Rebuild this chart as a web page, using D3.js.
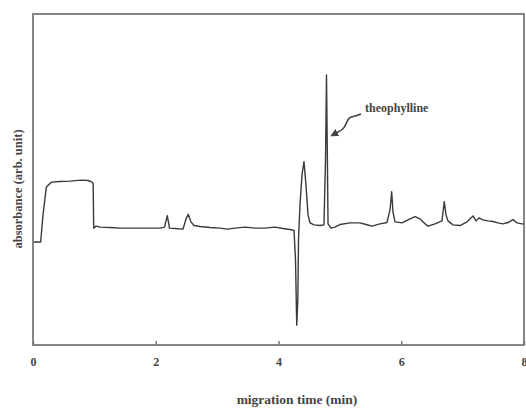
<!DOCTYPE html>
<html>
<head>
<meta charset="utf-8">
<script src="https://cdn.jsdelivr.net/npm/d3@7"></script>
<style>
body { margin: 0; background: #fff; }
svg text { font-family: "Liberation Serif", "DejaVu Serif", serif; font-weight: bold; fill: #444; }
</style>
</head>
<body>
<svg id="chart" width="526" height="408"></svg>
<script>
// electropherogram trace (time in min, absorbance in arb. units)
var timeMin = [0.016, 0.125, 0.163, 0.217, 0.298, 0.44, 0.603, 0.787, 0.896, 0.961, 0.98, 0.989,
	1.026, 1.092, 1.255, 1.418, 1.743, 2.069, 2.143, 2.188, 2.224, 2.313, 2.444, 2.493, 2.530,
	2.574, 2.623, 2.721, 2.884, 3.047, 3.161, 3.291, 3.454, 3.617, 3.780, 3.943, 4.073, 4.187,
	4.253, 4.277, 4.297, 4.315, 4.326, 4.350, 4.383, 4.415, 4.448, 4.481, 4.513, 4.578, 4.676,
	4.741, 4.766, 4.782, 4.795, 4.807, 4.855, 4.920, 5.002, 5.165, 5.328, 5.426, 5.523, 5.653,
	5.767, 5.817, 5.844, 5.865, 5.898, 6.012, 6.143, 6.224, 6.306, 6.371, 6.436, 6.550, 6.664,
	6.701, 6.729, 6.762, 6.843, 6.957, 7.071, 7.169, 7.218, 7.267, 7.332, 7.414, 7.495, 7.577,
	7.658, 7.739, 7.821, 7.886, 7.967, 8.0];
var absorbance = [31.1, 31.1, 39.3, 47.7, 49.2, 49.4, 49.5, 49.8, 49.7, 49.2, 48.8, 35.3,
	35.9, 35.6, 35.5, 35.3, 35.3, 35.3, 35.6, 39.1, 35.3, 35.2, 35.0, 38.1, 39.5,
	37.2, 36.1, 35.8, 35.5, 35.3, 35.0, 35.3, 35.6, 35.3, 35.3, 35.6, 35.2, 34.9,
	34.6, 25.7, 6.0, 13.6, 31.7, 42.3, 51.4, 55.4, 48.3, 39.3, 36.9, 36.3, 36.1,
	36.3, 55.9, 81.6, 58.9, 36.6, 35.3, 35.6, 36.4, 36.9, 36.9, 36.4, 35.9, 36.6,
	37.0, 40.8, 46.3, 40.2, 37.2, 36.9, 38.1, 38.8, 38.1, 36.9, 35.9, 36.6, 37.5,
	43.3, 39.3, 37.5, 36.3, 36.1, 37.2, 39.0, 37.5, 38.4, 37.8, 37.5, 37.3, 36.9,
	36.6, 37.0, 37.9, 36.9, 36.6, 36.6];
var xTicks = [0, 2, 4, 6, 8];
var xLabel = "migration time (min)";
var yLabel = "absorbance (arb. unit)";
var peakName = "theophylline";
// squiggly pointer of the annotation, in data units
var pointerT = [4.936, 5.067, 5.100, 5.133, 5.182, 5.264, 5.345];
var pointerA = [64.0, 65.3, 66.8, 68.3, 68.9, 69.2, 69.8];

var svg = d3.select("#chart");
var padLeft = 33, padRight = 524, padTop = 14, padBottom = 345;

var xScale = d3.scaleLinear()
	.domain([0, 8])
	.range([padLeft, padRight]);

var yScale = d3.scaleLinear()
	.domain([0, 100])
	.range([padBottom, padTop]);

var trace = timeMin.map(function(t, i) { return [t, absorbance[i]]; });

// frame
svg.append("rect")
	.attr("x", padLeft)
	.attr("y", padTop)
	.attr("width", padRight - padLeft)
	.attr("height", padBottom - padTop)
	.attr("fill", "none")
	.attr("stroke", "#858585")
	.attr("stroke-width", 2);

var xAxis = svg.append("g")
	.attr("transform", "translate(0, " + padBottom + ")")
	.call(d3.axisBottom(xScale).tickValues(xTicks).tickSizeInner(-4).tickSizeOuter(0).tickPadding(12));
xAxis.select(".domain").remove();
xAxis.selectAll("line").attr("stroke", "#777").attr("stroke-width", 1.5);
xAxis.selectAll("text")
	.style("font-size", "12px")
	.style("font-family", "Liberation Serif, serif")
	.style("font-weight", "bold")
	.attr("fill", "#555");

svg.append("path")
	.datum(trace)
	.attr("fill", "none")
	.attr("stroke", "#3a3a3a")
	.attr("stroke-width", 1.4)
	.attr("stroke-linejoin", "round")
	.attr("d", d3.line()
		.x(function(d) { return xScale(d[0]); })
		.y(function(d) { return yScale(d[1]); }));

// annotation
svg.append("defs").append("marker")
	.attr("id", "head")
	.attr("viewBox", "0 0 10 10")
	.attr("refX", 2)
	.attr("refY", 5)
	.attr("markerWidth", 5)
	.attr("markerHeight", 5)
	.attr("orient", "auto-start-reverse")
	.append("path")
		.attr("d", "M0,0 L10,5 L0,10 z")
		.attr("fill", "#444");

svg.append("path")
	.datum(pointerT.map(function(t, i) { return [t, pointerA[i]]; }))
	.attr("fill", "none")
	.attr("stroke", "#444")
	.attr("stroke-width", 1.6)
	.attr("marker-start", "url(#head)")
	.attr("d", d3.line()
		.curve(d3.curveBasis)
		.x(function(d) { return xScale(d[0]); })
		.y(function(d) { return yScale(d[1]); }));

svg.append("text")
	.attr("x", xScale(5.41))
	.attr("y", yScale(70.4))
	.style("font-size", "12px")
	.text(peakName);

svg.append("text")
	.attr("x", 297)
	.attr("y", 404)
	.style("text-anchor", "middle")
	.style("font-size", "13.5px")
	.text(xLabel);

svg.append("text")
	.attr("transform", "translate(22, 189) rotate(-90)")
	.style("text-anchor", "middle")
	.style("font-size", "12.5px")
	.text(yLabel);
</script>
</body>
</html>
